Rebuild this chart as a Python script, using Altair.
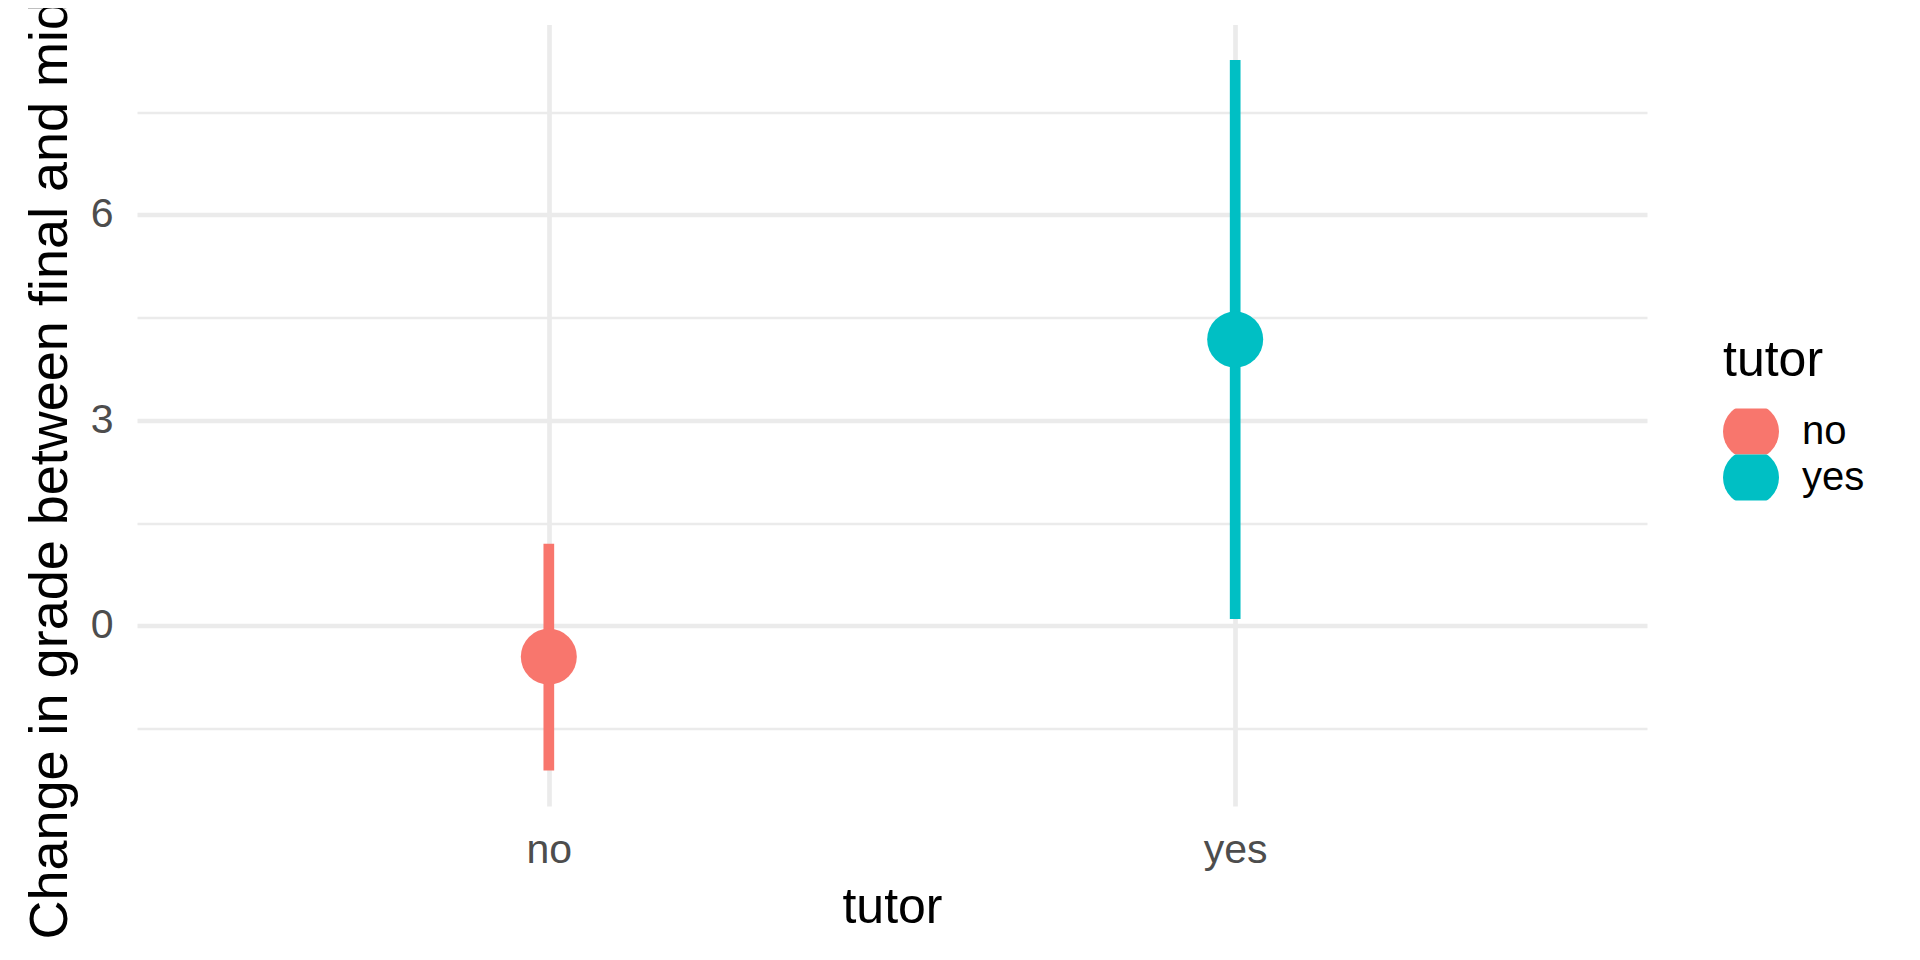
import altair as alt
import pandas as pd

# ---- data ----
tutor = ["no", "yes"]
mean_change = [-0.45, 4.18]
lower = [-2.11, 0.10]
upper = [1.20, 8.26]
colors = ["#F8766D", "#00BFC4"]
y_major = [0, 3, 6]
y_minor = [-1.5, 1.5, 4.5, 7.5]

df = pd.DataFrame({"tutor": tutor, "mean": mean_change, "lower": lower, "upper": upper})

W, H = 1510, 781.5
FONT = "Liberation Sans"
GRID = "#EBEBEB"
PT = 3136  # vega circle: diameter = sqrt(size) -> 56 px

yscale = alt.Scale(domain=[-2.63, 8.78], nice=False, zero=False)
xscale = alt.Scale(type="point", padding=0.6)
cscale = alt.Scale(domain=tutor, range=colors)

x_axis = alt.Axis(
    title="tutor", grid=True, gridColor=GRID, gridWidth=4.7, domain=False, ticks=False,
    tickSize=0, labelFontSize=41, labelColor="#4D4D4D", labelPadding=56.7,
    labelBaseline="alphabetic", labelAngle=0, labelFont=FONT,
    titleFontSize=50, titleFontWeight="normal", titleColor="black", titleFont=FONT,
    titleX=W / 2, titleY=116.7, titleBaseline="alphabetic", titleAlign="center",
)

major_axis = alt.Axis(
    values=y_major, orient="left", grid=True, gridColor=GRID, gridWidth=4.7,
    domain=False, ticks=False, tickSize=0, labelFontSize=41, labelColor="#4D4D4D",
    labelPadding=24, labelAlign="right", labelBaseline="middle", labelFont=FONT,
    title="Change in grade between final and midterm", titleFontSize=54,
    titleFontWeight="normal", titleColor="black", titleFont=FONT, titleLimit=3000,
    titleAngle=270, titleX=-70.3, titleY=H / 2, titleBaseline="alphabetic",
    titleAlign="center",
)

minor_axis = alt.Axis(
    values=y_minor, orient="left", grid=True, gridColor=GRID, gridWidth=2.3,
    domain=False, ticks=False, tickSize=0, labels=False, title="",
)

legend = alt.Legend(
    title="tutor", orient="none", legendX=1586, legendY=311,
    titleFontSize=50, titleFontWeight="normal", titleColor="black", titleFont=FONT,
    titlePadding=23, labelFontSize=40, labelColor="black", labelFont=FONT,
    labelOffset=23, symbolSize=PT, symbolType="circle", symbolOpacity=1,
    symbolStrokeWidth=0, rowPadding=0, clipHeight=46,
)

color_enc = alt.Color("tutor:N", scale=cscale, legend=legend)

base = alt.Chart(df)

bars = base.mark_rule(strokeWidth=10.7).encode(
    x=alt.X("tutor:N", scale=xscale, axis=x_axis, sort=tutor),
    y=alt.Y("lower:Q", scale=yscale, axis=minor_axis),
    y2="upper:Q",
    color=color_enc,
)

points = base.mark_circle(size=PT, opacity=1).encode(
    x=alt.X("tutor:N", scale=xscale, axis=x_axis, sort=tutor),
    y=alt.Y("mean:Q", scale=yscale, axis=major_axis),
    color=color_enc,
)

chart = (
    alt.layer(bars, points)
    .resolve_axis(y="independent")
    .resolve_scale(y="shared")
    .properties(
        width=W, height=H,
        autosize=alt.AutoSizeParams(type="none"),
        padding={"left": 129, "top": 16.5, "right": 265, "bottom": 140},
        background="white",
    )
    .configure(font=FONT)
    .configure_view(strokeWidth=0, stroke="transparent")
)

chart.save("out.html", embed_options={"renderer": "svg", "actions": False})
